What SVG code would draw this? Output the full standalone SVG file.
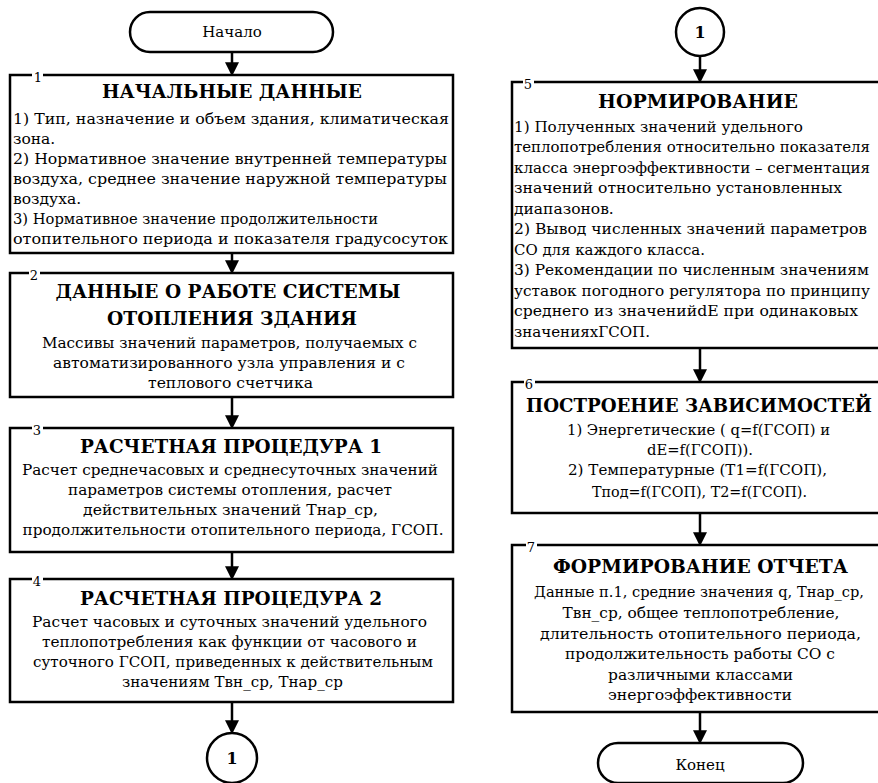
<svg xmlns="http://www.w3.org/2000/svg" width="878" height="783" viewBox="0 0 878 783">
<defs>
<style>
.box{fill:#fff;stroke:#000;stroke-width:2.5}
.term{fill:#fff;stroke:#000;stroke-width:2.5}
.gap{fill:#fff}
.conn{stroke:#000;stroke-width:2.5;fill:none;marker-end:url(#arr)}
</style>
<marker id="arr" markerUnits="userSpaceOnUse" markerWidth="14" markerHeight="14" viewBox="0 0 12 12" refX="4" refY="6" orient="auto">
<path d="M0,0 L12,6 L0,12 z" fill="#000"/>
</marker>
</defs>
<rect width="878" height="783" fill="#fff"/>

<g id="connectors">
<line class="conn" x1="232" y1="52" x2="232" y2="67"/>
<line class="conn" x1="232" y1="253" x2="232" y2="265"/>
<line class="conn" x1="232" y1="397" x2="232" y2="420"/>
<line class="conn" x1="232" y1="552" x2="232" y2="571"/>
<line class="conn" x1="232" y1="702" x2="232" y2="725"/>
<line class="conn" x1="700" y1="56" x2="700" y2="74"/>
<line class="conn" x1="700" y1="348" x2="700" y2="374"/>
<line class="conn" x1="700" y1="513" x2="700" y2="537"/>
<line class="conn" x1="700" y1="712" x2="700" y2="735"/>
</g>

<g font-family="DejaVu Serif, serif" font-size="15.5" fill="#000">

<g id="start">
<rect class="term" x="130" y="12" width="203" height="40" rx="20"/>
<text x="232" y="37" text-anchor="middle" font-size="15">Начало</text>
</g>

<g id="node1">
<rect class="box" x="10" y="75" width="443" height="178"/>
<rect class="gap" x="32" y="72" width="11" height="6"/>
<text x="38" y="82" text-anchor="middle" font-size="13">1</text>
<text x="232" y="98" text-anchor="middle" font-weight="bold" font-size="18.5" textLength="260" lengthAdjust="spacingAndGlyphs">НАЧАЛЬНЫЕ ДАННЫЕ</text>
<text x="13" y="124" textLength="436" lengthAdjust="spacingAndGlyphs">1) Тип, назначение и объем здания, климатическая</text>
<text x="13" y="144">зона.</text>
<text x="13" y="164" textLength="434" lengthAdjust="spacingAndGlyphs">2) Нормативное значение внутренней температуры</text>
<text x="13" y="184" textLength="434" lengthAdjust="spacingAndGlyphs">воздуха, среднее значение наружной температуры</text>
<text x="13" y="204">воздуха.</text>
<text x="13" y="224" textLength="365" lengthAdjust="spacingAndGlyphs">3) Нормативное значение продолжительности</text>
<text x="13" y="244" textLength="435" lengthAdjust="spacingAndGlyphs">отопительного периода и  показателя градусосуток</text>
</g>

<g id="node2">
<rect class="box" x="10" y="273" width="443" height="124"/>
<rect class="gap" x="29" y="270" width="11" height="6"/>
<text x="34" y="280" text-anchor="middle" font-size="13">2</text>
<text x="228" y="298" text-anchor="middle" font-weight="bold" font-size="18.5" textLength="345" lengthAdjust="spacingAndGlyphs">ДАННЫЕ О РАБОТЕ СИСТЕМЫ</text>
<text x="232" y="325" text-anchor="middle" font-weight="bold" font-size="18.5" textLength="250" lengthAdjust="spacingAndGlyphs">ОТОПЛЕНИЯ ЗДАНИЯ</text>
<text x="229.5" y="348" text-anchor="middle" textLength="375" lengthAdjust="spacingAndGlyphs">Массивы значений параметров, получаемых с</text>
<text x="229" y="368" text-anchor="middle" textLength="352" lengthAdjust="spacingAndGlyphs">автоматизированного узла управления и с</text>
<text x="230.5" y="388" text-anchor="middle" textLength="165" lengthAdjust="spacingAndGlyphs">теплового счетчика</text>
</g>

<g id="node3">
<rect class="box" x="10" y="428" width="443" height="124"/>
<rect class="gap" x="32" y="425" width="11" height="6"/>
<text x="37" y="435" text-anchor="middle" font-size="13">3</text>
<text x="231" y="453" text-anchor="middle" font-weight="bold" font-size="18.5" textLength="302" lengthAdjust="spacingAndGlyphs">РАСЧЕТНАЯ ПРОЦЕДУРА 1</text>
<text x="230" y="475" text-anchor="middle" textLength="416" lengthAdjust="spacingAndGlyphs">Расчет среднечасовых и среднесуточных значений</text>
<text x="230" y="495" text-anchor="middle" textLength="324" lengthAdjust="spacingAndGlyphs">параметров системы отопления, расчет</text>
<text x="230.5" y="515" text-anchor="middle" textLength="295" lengthAdjust="spacingAndGlyphs">действительных значений Тнар_ср,</text>
<text x="233" y="535" text-anchor="middle" textLength="421" lengthAdjust="spacingAndGlyphs">продолжительности отопительного периода, ГСОП.</text>
</g>

<g id="node4">
<rect class="box" x="10" y="579" width="443" height="123"/>
<rect class="gap" x="32" y="576" width="11" height="6"/>
<text x="37" y="586" text-anchor="middle" font-size="13">4</text>
<text x="231" y="605" text-anchor="middle" font-weight="bold" font-size="18.5" textLength="302" lengthAdjust="spacingAndGlyphs">РАСЧЕТНАЯ ПРОЦЕДУРА 2</text>
<text x="229.5" y="627" text-anchor="middle" textLength="395" lengthAdjust="spacingAndGlyphs">Расчет часовых и суточных значений удельного</text>
<text x="229.5" y="647" text-anchor="middle" textLength="375" lengthAdjust="spacingAndGlyphs">теплопотребления как функции от  часового и</text>
<text x="233" y="667" text-anchor="middle" textLength="400" lengthAdjust="spacingAndGlyphs">суточного ГСОП, приведенных к действительным</text>
<text x="232.5" y="687" text-anchor="middle" textLength="221" lengthAdjust="spacingAndGlyphs">значениям Твн_ср, Тнар_ср</text>
</g>

<g id="connector1-out">
<circle class="term" cx="232" cy="758" r="25"/>
<text x="232" y="764" text-anchor="middle" font-weight="bold" font-size="16">1</text>
</g>

<g id="connector1-in">
<circle class="term" cx="700" cy="32" r="24"/>
<text x="700" y="38" text-anchor="middle" font-weight="bold" font-size="16">1</text>
</g>

<g id="node5">
<rect class="box" x="512" y="82" width="380" height="266"/>
<rect class="gap" x="523" y="79" width="11" height="6"/>
<text x="528" y="89" text-anchor="middle" font-size="13">5</text>
<text x="698" y="108" text-anchor="middle" font-weight="bold" font-size="18.5" textLength="200" lengthAdjust="spacingAndGlyphs">НОРМИРОВАНИЕ</text>
<text x="514" y="132" textLength="289" lengthAdjust="spacingAndGlyphs">1) Полученных значений удельного</text>
<text x="514" y="152" font-size="14.5" textLength="356" lengthAdjust="spacingAndGlyphs">теплопотребления относительно показателя</text>
<text x="514" y="173" textLength="356" lengthAdjust="spacingAndGlyphs">класса энергоэффективности – сегментация</text>
<text x="514" y="193" textLength="328" lengthAdjust="spacingAndGlyphs">значений относительно установленных</text>
<text x="514" y="214">диапазонов.</text>
<text x="514" y="234" textLength="353" lengthAdjust="spacingAndGlyphs">2) Вывод численных значений параметров</text>
<text x="514" y="255" textLength="191" lengthAdjust="spacingAndGlyphs">СО для каждого класса.</text>
<text x="514" y="275" textLength="355" lengthAdjust="spacingAndGlyphs">3) Рекомендации по численным значениям</text>
<text x="514" y="296" textLength="356" lengthAdjust="spacingAndGlyphs">уставок погодного регулятора по принципу</text>
<text x="514" y="316" textLength="344" lengthAdjust="spacingAndGlyphs">среднего из значенийdE при одинаковых</text>
<text x="514" y="337" textLength="136" lengthAdjust="spacingAndGlyphs">значенияхГСОП.</text>
</g>

<g id="node6">
<rect class="box" x="512" y="382" width="380" height="131"/>
<rect class="gap" x="524" y="379" width="11" height="6"/>
<text x="529" y="389" text-anchor="middle" font-size="13">6</text>
<text x="699" y="412" text-anchor="middle" font-weight="bold" font-size="18.5" textLength="346" lengthAdjust="spacingAndGlyphs">ПОСТРОЕНИЕ ЗАВИСИМОСТЕЙ</text>
<text x="698.5" y="435" text-anchor="middle" textLength="263" lengthAdjust="spacingAndGlyphs">1) Энергетические ( q=f(ГСОП) и</text>
<text x="700" y="455" text-anchor="middle" textLength="106" lengthAdjust="spacingAndGlyphs">dE=f(ГСОП)).</text>
<text x="697.5" y="475" text-anchor="middle" textLength="259" lengthAdjust="spacingAndGlyphs">2) Температурные (Т1=f(ГСОП),</text>
<text x="699.5" y="497" text-anchor="middle" textLength="215" lengthAdjust="spacingAndGlyphs">Тпод=f(ГСОП), Т2=f(ГСОП).</text>
</g>

<g id="node7">
<rect class="box" x="512" y="545" width="380" height="167"/>
<rect class="gap" x="526" y="542" width="11" height="6"/>
<text x="531" y="552" text-anchor="middle" font-size="13">7</text>
<text x="700.5" y="573" text-anchor="middle" font-weight="bold" font-size="18.5" textLength="295" lengthAdjust="spacingAndGlyphs">ФОРМИРОВАНИЕ ОТЧЕТА</text>
<text x="699" y="597" font-size="14.5" text-anchor="middle" textLength="330" lengthAdjust="spacingAndGlyphs">Данные п.1, средние значения q, Тнар_ср,</text>
<text x="701" y="618" text-anchor="middle" textLength="277" lengthAdjust="spacingAndGlyphs">Твн_ср, общее теплопотребление,</text>
<text x="700.5" y="639" text-anchor="middle" textLength="321" lengthAdjust="spacingAndGlyphs">длительность отопительного периода,</text>
<text x="700" y="659" text-anchor="middle" textLength="270" lengthAdjust="spacingAndGlyphs">продолжительность работы СО с</text>
<text x="700.5" y="680" text-anchor="middle" textLength="185" lengthAdjust="spacingAndGlyphs">различными классами</text>
<text x="700" y="700" text-anchor="middle" textLength="184" lengthAdjust="spacingAndGlyphs">энергоэффективности</text>
</g>

<g id="end">
<rect class="term" x="598" y="743" width="205" height="40" rx="20"/>
<text x="700" y="770" text-anchor="middle" font-size="15">Конец</text>
</g>

</g>
</svg>
